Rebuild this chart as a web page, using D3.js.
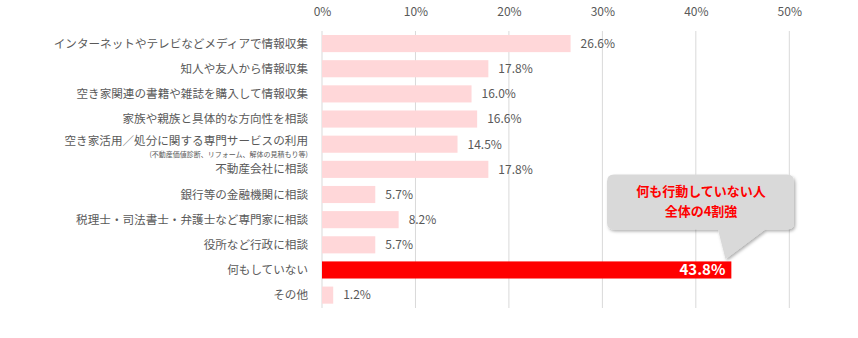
<!DOCTYPE html>
<html><head><meta charset="utf-8">
<script src="https://cdn.jsdelivr.net/npm/d3@7"></script>
<style>
body{margin:0;background:#fff;}
text{font-family:"Noto Sans CJK JP","Noto Sans",sans-serif;}
</style></head>
<body>
<svg id="c" width="858" height="338"></svg>
<script>
const categories = [
  "インターネットやテレビなどメディアで情報収集",
  "知人や友人から情報収集",
  "空き家関連の書籍や雑誌を購入して情報収集",
  "家族や親族と具体的な方向性を相談",
  "空き家活用／処分に関する専門サービスの利用",
  "不動産会社に相談",
  "銀行等の金融機関に相談",
  "税理士・司法書士・弁護士など専門家に相談",
  "役所など行政に相談",
  "何もしていない",
  "その他"
];
const values = [26.6, 17.8, 16.0, 16.6, 14.5, 17.8, 5.7, 8.2, 5.7, 43.8, 1.2];
const subLabels = ["", "", "", "", "(不動産価値診断、リフォーム、解体の見積もり等)", "", "", "", "", "", ""];
const tickValues = [0, 10, 20, 30, 40, 50];
const highlight = "何もしていない";
const calloutLines = ["何も行動していない人", "全体の4割強"];

const svg = d3.select("#c");
const x = d3.scaleLinear().domain([0, 50]).range([322, 789.3]);
const y = d3.scaleBand().domain(categories).range([31, 307.7]).paddingInner(0.32).paddingOuter(0.16);

const defs = svg.append("defs");
const f = defs.append("filter").attr("id","sh").attr("x","-10%").attr("y","-10%").attr("width","130%").attr("height","140%");
f.append("feDropShadow").attr("dx",1.5).attr("dy",2).attr("stdDeviation",1.8).attr("flood-color","#000").attr("flood-opacity",0.3);

// gridlines
svg.append("g").selectAll("line").data(tickValues).join("line")
  .attr("x1", d => x(d)).attr("x2", d => x(d))
  .attr("y1", 31).attr("y2", 308)
  .attr("stroke", "#d9d9d9").attr("stroke-width", 1);

// top axis
const ax = svg.append("g").attr("transform","translate(0,16)")
  .call(d3.axisTop(x).tickValues(tickValues).tickFormat(d => d + "%").tickSize(0).tickPadding(0));
ax.select(".domain").remove();
ax.selectAll("text").attr("fill","#595959").attr("font-size",12).attr("font-family",'"Noto Sans CJK JP",sans-serif');

// bars
svg.append("g").selectAll("rect").data(categories).join("rect")
  .attr("x", x(0)).attr("y", d => y(d))
  .attr("width", (d,i) => x(values[i]) - x(0))
  .attr("height", y.bandwidth())
  .attr("fill", d => d === highlight ? "#ff0000" : "#ffd7d9");

// category labels
svg.append("g").selectAll("text").data(categories).join("text")
  .attr("x", 308).attr("y", (d,i) => y(d) + y.bandwidth()/2 + (subLabels[i] ? -3 : 0))
  .attr("dy", "0.35em").attr("text-anchor","end")
  .attr("fill","#595959").attr("font-size",11.6).text(d => d);
svg.append("g").selectAll("text").data(categories.filter((d,i) => subLabels[i])).join("text")
  .attr("x", 308).attr("y", d => y(d) + y.bandwidth()/2 + 10.5)
  .attr("dy","0.35em").attr("text-anchor","end")
  .attr("fill","#595959").attr("font-size",7)
  .text(d => subLabels[categories.indexOf(d)]);

// value labels
svg.append("g").selectAll("text").data(categories).join("text")
  .attr("x", (d,i) => d === highlight ? x(values[i]) - 6 : x(values[i]) + 10)
  .attr("y", d => y(d) + y.bandwidth()/2)
  .attr("dy","0.36em")
  .attr("text-anchor", d => d === highlight ? "end" : "start")
  .attr("fill", d => d === highlight ? "#fff" : "#595959")
  .attr("font-weight", d => d === highlight ? "bold" : "normal")
  .attr("font-size", d => d === highlight ? 15 : 12)
  .text((d,i) => values[i].toFixed(1) + "%");

// callout
const bx0 = 607, bx1 = 794, by0 = 174.5, by1 = 229.5, r = 7;
const tipX = 725.5, tipY = 259, p1 = 718, p2 = 765;
const path = d3.path();
path.moveTo(bx0 + r, by0);
path.lineTo(bx1 - r, by0);
path.quadraticCurveTo(bx1, by0, bx1, by0 + r);
path.lineTo(bx1, by1 - r);
path.quadraticCurveTo(bx1, by1, bx1 - r, by1);
path.lineTo(p2, by1);
path.lineTo(tipX, tipY);
path.lineTo(p1, by1);
path.lineTo(bx0 + r, by1);
path.quadraticCurveTo(bx0, by1, bx0, by1 - r);
path.lineTo(bx0, by0 + r);
path.quadraticCurveTo(bx0, by0, bx0 + r, by0);
path.closePath();
svg.append("path").attr("d", path.toString()).attr("fill","#d9d9d9").attr("filter","url(#sh)");
svg.append("g").selectAll("text").data(calloutLines).join("text")
  .attr("x", 701).attr("y", (d,i) => 191 + i*20)
  .attr("dy","0.35em").attr("text-anchor","middle")
  .attr("fill","#ff0000").attr("font-weight","bold").attr("font-size",13)
  .text(d => d);
</script>
</body></html>
